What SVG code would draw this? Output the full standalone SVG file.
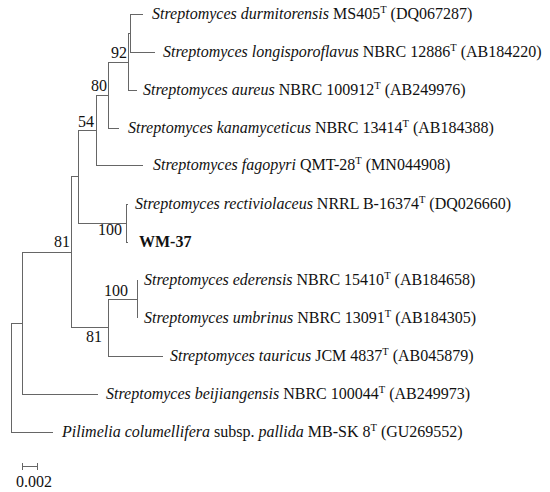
<svg xmlns="http://www.w3.org/2000/svg" width="550" height="492" viewBox="0 0 550 492">
<style>
.br{stroke:#666;stroke-width:1;fill:none}
text{font-family:"Liberation Serif","Times New Roman",serif;font-size:16px;fill:#111}
.i{font-style:italic}
.b{font-weight:bold}
.s{font-size:10.5px}
.bs{text-anchor:end}
</style>
<rect width="550" height="492" fill="#fff"/>
<g id="connectors" class="br">
<path d="M11.5,323 V432 M11,323.5 H22 M11,432.5 H53"/>
<path d="M22.5,252 V394 M22,252.5 H71 M22,394.5 H98"/>
<path d="M71.5,176 V327 M71,176.5 H78 M71,327.5 H108"/>
<path d="M78.5,130 V223 M78,130.5 H96 M78,223.5 H126"/>
<path d="M96.5,95 V165 M96,95.5 H108 M96,165.5 H143"/>
<path d="M108.5,62 V128 M108,62.5 H128 M108,128.5 H119"/>
<path d="M128.5,33 V90 M128,33.5 H130 M128,90.5 H137"/>
<path d="M130.5,14 V52 M130,14.5 H143 M130,52.5 H155"/>
<path d="M126.5,204 V242 M126,204.5 H128 M126,242.5 H128"/>
<path d="M108.5,299 V356 M108,299.5 H137 M108,356.5 H163"/>
<path d="M137.5,280 V318"/>
<path d="M22,466.5 H38 M22.5,463 V470 M37.5,463 V470"/>
</g>
<g id="n-durmitorensis"><text x="152" y="19"><tspan class="i">Streptomyces durmitorensis</tspan> MS405<tspan class="s" dy="-6">T</tspan><tspan dy="6"> (DQ067287)</tspan></text></g>
<g id="n-longisporoflavus"><text x="163" y="57"><tspan class="i">Streptomyces longisporoflavus</tspan> NBRC 12886<tspan class="s" dy="-6">T</tspan><tspan dy="6"> (AB184220)</tspan></text></g>
<g id="n-aureus"><text x="143" y="95"><tspan class="i">Streptomyces aureus</tspan> NBRC 100912<tspan class="s" dy="-6">T</tspan><tspan dy="6"> (AB249976)</tspan></text></g>
<g id="n-kanamyceticus"><text x="128" y="133"><tspan class="i">Streptomyces kanamyceticus</tspan> NBRC 13414<tspan class="s" dy="-6">T</tspan><tspan dy="6"> (AB184388)</tspan></text></g>
<g id="n-fagopyri"><text x="153" y="170"><tspan class="i">Streptomyces fagopyri</tspan> QMT-28<tspan class="s" dy="-6">T</tspan><tspan dy="6"> (MN044908)</tspan></text></g>
<g id="n-rectiviolaceus"><text x="135" y="209"><tspan class="i">Streptomyces rectiviolaceus</tspan> NRRL B-16374<tspan class="s" dy="-6">T</tspan><tspan dy="6"> (DQ026660)</tspan></text></g>
<g id="n-wm37"><text x="139" y="247" class="b">WM-37</text></g>
<g id="n-ederensis"><text x="144" y="285"><tspan class="i">Streptomyces ederensis</tspan> NBRC 15410<tspan class="s" dy="-6">T</tspan><tspan dy="6"> (AB184658)</tspan></text></g>
<g id="n-umbrinus"><text x="144" y="323"><tspan class="i">Streptomyces umbrinus</tspan> NBRC 13091<tspan class="s" dy="-6">T</tspan><tspan dy="6"> (AB184305)</tspan></text></g>
<g id="n-tauricus"><text x="170" y="361"><tspan class="i">Streptomyces tauricus</tspan> JCM 4837<tspan class="s" dy="-6">T</tspan><tspan dy="6"> (AB045879)</tspan></text></g>
<g id="n-beijiangensis"><text x="106" y="399"><tspan class="i">Streptomyces beijiangensis</tspan> NBRC 100044<tspan class="s" dy="-6">T</tspan><tspan dy="6"> (AB249973)</tspan></text></g>
<g id="n-pilimelia"><text x="62" y="437"><tspan class="i">Pilimelia columellifera</tspan> subsp. <tspan class="i">pallida</tspan> MB-SK 8<tspan class="s" dy="-6">T</tspan><tspan dy="6"> (GU269552)</tspan></text></g>
<g id="bootstrap">
<text class="bs" x="127" y="58">92</text>
<text class="bs" x="107" y="91">80</text>
<text class="bs" x="94" y="127">54</text>
<text class="bs" x="122" y="235">100</text>
<text class="bs" x="70" y="247">81</text>
<text class="bs" x="128" y="296">100</text>
<text class="bs" x="102" y="342">81</text>
</g>
<g id="scale"><text x="16" y="487">0.002</text></g>
</svg>
